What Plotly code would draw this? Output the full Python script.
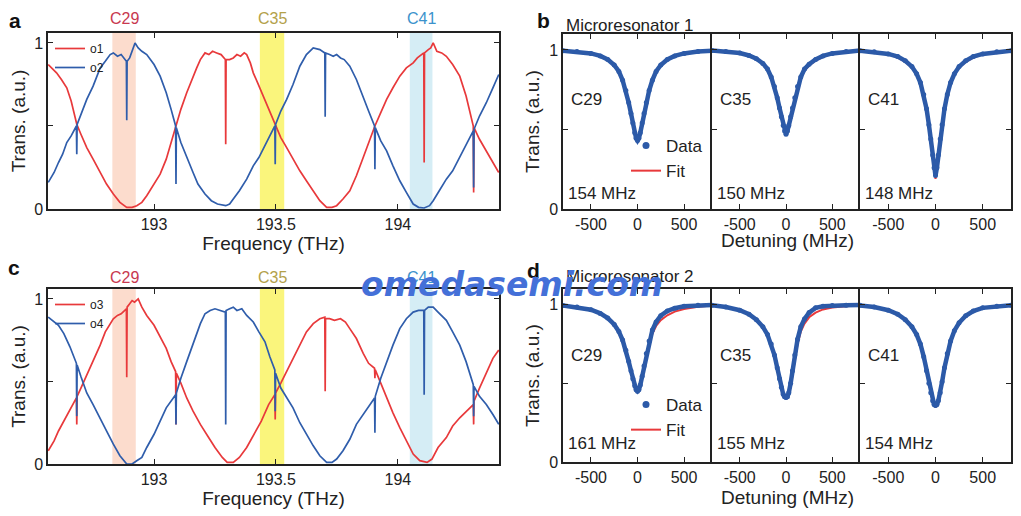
import plotly.graph_objects as go

# ---- panel a: interleaver outputs o1 / o2 ----
a_o1_f = [192.566, 192.585, 192.60, 192.62, 192.642, 192.66, 192.683, 192.70, 192.724, 192.75,
          192.779, 192.805, 192.833, 192.86, 192.888, 192.91, 192.929, 192.95, 192.97, 193.00,
          193.025, 193.05, 193.07, 193.09, 193.11, 193.134, 193.155, 193.175, 193.19, 193.209,
          193.225, 193.24, 193.257, 193.275, 193.2925, 193.294, 193.2955, 193.31, 193.325, 193.34,
          193.355, 193.37, 193.38, 193.395, 193.407, 193.425, 193.448, 193.47, 193.497, 193.52,
          193.544, 193.57, 193.598, 193.625, 193.653, 193.68, 193.708, 193.73, 193.749, 193.775,
          193.803, 193.83, 193.858, 193.88, 193.906, 193.93, 193.954, 193.98, 194.008, 194.035,
          194.063, 194.08, 194.095, 194.1065, 194.108, 194.1095, 194.125, 194.135, 194.145, 194.16,
          194.18, 194.199, 194.225, 194.254, 194.28, 194.3095, 194.311, 194.3125, 194.335, 194.363,
          194.39, 194.414]
a_o1_t = [0.87, 0.84, 0.82, 0.78, 0.73, 0.65, 0.51, 0.45, 0.37, 0.30,
          0.22, 0.15, 0.09, 0.04, 0.01, 0.01, 0.02, 0.04, 0.08, 0.15,
          0.21, 0.30, 0.40, 0.50, 0.60, 0.70, 0.78, 0.85, 0.90, 0.94,
          0.93, 0.95, 0.94, 0.93, 0.90, 0.39, 0.90, 0.90, 0.91, 0.93,
          0.92, 0.94, 0.93, 0.88, 0.82, 0.76, 0.68, 0.60, 0.50, 0.43,
          0.37, 0.30, 0.23, 0.17, 0.11, 0.05, 0.01, 0.01, 0.02, 0.06,
          0.11, 0.20, 0.31, 0.40, 0.50, 0.58, 0.66, 0.73, 0.80, 0.85,
          0.88, 0.91, 0.93, 0.94, 0.28, 0.94, 0.96, 0.97, 1.00, 0.95,
          0.94, 0.92, 0.87, 0.80, 0.68, 0.50, 0.10, 0.49, 0.42, 0.35,
          0.28, 0.22]

a_o2_f = [192.566, 192.59, 192.608, 192.625, 192.642, 192.66, 192.6815, 192.683, 192.6845, 192.70,
          192.724, 192.75, 192.779, 192.80, 192.82, 192.833, 192.85, 192.865, 192.8865, 192.888,
          192.8895, 192.90, 192.91, 192.922, 192.935, 192.95, 192.97, 193.00, 193.025, 193.05,
          193.07, 193.0885, 193.09, 193.0915, 193.11, 193.134, 193.16, 193.18, 193.209, 193.235,
          193.26, 193.294, 193.31, 193.325, 193.35, 193.38, 193.407, 193.43, 193.455, 193.4955,
          193.497, 193.4985, 193.52, 193.544, 193.57, 193.598, 193.625, 193.653, 193.68, 193.7005,
          193.702, 193.7035, 193.72, 193.735, 193.749, 193.765, 193.78, 193.803, 193.83, 193.858,
          193.88, 193.9045, 193.906, 193.9075, 193.93, 193.954, 193.98, 194.008, 194.035, 194.063,
          194.085, 194.108, 194.13, 194.145, 194.17, 194.199, 194.225, 194.254, 194.28, 194.3095,
          194.311, 194.3125, 194.335, 194.363, 194.39, 194.414]
a_o2_t = [0.16, 0.22, 0.28, 0.33, 0.40, 0.44, 0.50, 0.33, 0.51, 0.57,
          0.66, 0.74, 0.85, 0.89, 0.93, 0.94, 0.92, 0.93, 0.89, 0.535,
          0.89, 0.91, 0.95, 1.00, 0.97, 0.95, 0.93, 0.87, 0.80, 0.70,
          0.60, 0.50, 0.15, 0.49, 0.40, 0.31, 0.22, 0.15, 0.09, 0.05,
          0.03, 0.02, 0.03, 0.06, 0.11, 0.18, 0.26, 0.31, 0.38, 0.50,
          0.27, 0.51, 0.59, 0.66, 0.75, 0.86, 0.93, 0.97, 0.96, 0.94,
          0.555, 0.94, 0.93, 0.92, 0.93, 0.91, 0.90, 0.86, 0.78, 0.68,
          0.59, 0.50, 0.24, 0.49, 0.41, 0.35, 0.26, 0.17, 0.10, 0.03,
          0.01, 0.006, 0.02, 0.05, 0.11, 0.18, 0.23, 0.31, 0.39, 0.47,
          0.13, 0.48, 0.56, 0.64, 0.73, 0.81]

# ---- panel c: interleaver outputs o3 / o4 ----
c_o3_f = [192.566, 192.59, 192.608, 192.63, 192.655, 192.6815, 192.683, 192.6845, 192.70, 192.724,
          192.75, 192.779, 192.80, 192.82, 192.833, 192.85, 192.865, 192.8865, 192.888, 192.8895,
          192.90, 192.91, 192.92, 192.935, 192.95, 192.97, 193.00, 193.025, 193.05, 193.07,
          193.0885, 193.09, 193.0915, 193.11, 193.134, 193.16, 193.19, 193.22, 193.25, 193.28,
          193.30, 193.325, 193.35, 193.38, 193.41, 193.44, 193.47, 193.4955, 193.497, 193.4985,
          193.52, 193.544, 193.57, 193.598, 193.625, 193.653, 193.68, 193.7005, 193.702, 193.7035,
          193.72, 193.74, 193.765, 193.785, 193.803, 193.83, 193.858, 193.88, 193.9045, 193.906,
          193.9075, 193.93, 193.954, 193.98, 194.008, 194.035, 194.063, 194.09, 194.12, 194.14,
          194.165, 194.199, 194.225, 194.254, 194.28, 194.3095, 194.311, 194.3125, 194.335, 194.363,
          194.39, 194.414]
c_o3_t = [0.08, 0.14, 0.20, 0.26, 0.32, 0.40, 0.24, 0.41, 0.46, 0.54,
          0.62, 0.72, 0.80, 0.85, 0.88, 0.90, 0.91, 0.94, 0.525, 0.95,
          0.97, 0.99, 0.98, 1.00, 0.95, 0.90, 0.84, 0.77, 0.70, 0.62,
          0.56, 0.24, 0.55, 0.49, 0.40, 0.32, 0.24, 0.17, 0.10, 0.04,
          0.01, 0.01, 0.04, 0.10, 0.18, 0.26, 0.36, 0.42, 0.27, 0.43,
          0.49, 0.56, 0.63, 0.72, 0.80, 0.85, 0.88, 0.89, 0.44, 0.88,
          0.88, 0.87, 0.88, 0.86, 0.82, 0.76, 0.67, 0.61, 0.58, 0.52,
          0.57, 0.49, 0.40, 0.31, 0.22, 0.14, 0.06, 0.02, 0.01, 0.03,
          0.10, 0.16, 0.23, 0.28, 0.32, 0.36, 0.24, 0.38, 0.46, 0.55,
          0.64, 0.69]

c_o4_f = [192.566, 192.59, 192.608, 192.63, 192.655, 192.6815, 192.683, 192.6845, 192.70, 192.724,
          192.75, 192.779, 192.805, 192.833, 192.86, 192.888, 192.91, 192.929, 192.95, 192.97,
          193.00, 193.025, 193.05, 193.0885, 193.09, 193.0915, 193.11, 193.134, 193.16, 193.19,
          193.209, 193.23, 193.25, 193.275, 193.2925, 193.294, 193.2955, 193.31, 193.325, 193.34,
          193.36, 193.38, 193.407, 193.43, 193.455, 193.475, 193.4955, 193.497, 193.4985, 193.52,
          193.544, 193.57, 193.598, 193.625, 193.653, 193.68, 193.708, 193.73, 193.749, 193.775,
          193.803, 193.83, 193.858, 193.88, 193.9045, 193.906, 193.9075, 193.93, 193.954, 193.98,
          194.008, 194.035, 194.063, 194.085, 194.1065, 194.108, 194.1095, 194.125, 194.145, 194.165,
          194.199, 194.225, 194.254, 194.28, 194.3095, 194.311, 194.3125, 194.335, 194.363, 194.39,
          194.414]
c_o4_t = [0.89, 0.86, 0.84, 0.79, 0.71, 0.61, 0.29, 0.60, 0.53, 0.43,
          0.36, 0.28, 0.20, 0.12, 0.05, 0.00, 0.00, 0.02, 0.04, 0.10,
          0.18, 0.26, 0.34, 0.42, 0.24, 0.43, 0.52, 0.62, 0.73, 0.85,
          0.91, 0.93, 0.94, 0.93, 0.92, 0.24, 0.93, 0.94, 0.95, 0.93,
          0.94, 0.90, 0.86, 0.80, 0.74, 0.65, 0.57, 0.32, 0.55, 0.46,
          0.40, 0.34, 0.25, 0.18, 0.11, 0.05, 0.01, 0.01, 0.03, 0.08,
          0.15, 0.24, 0.30, 0.35, 0.40, 0.19, 0.41, 0.52, 0.62, 0.72,
          0.82, 0.88, 0.92, 0.93, 0.93, 0.42, 0.93, 0.95, 0.95, 0.92,
          0.87, 0.80, 0.72, 0.62, 0.48, 0.29, 0.47, 0.41, 0.36, 0.30,
          0.24]

channels = ['C29', 'C35', 'C41']
band_lo = [192.829, 193.434, 194.049]
band_hi = [192.925, 193.534, 194.142]

# ---- panels b / d: resonance dips vs detuning ----
detuning = [-800, -650, -500, -400, -320, -250, -200, -160, -125, -95, -70, -50, -30, -15, 0,
            15, 30, 50, 70, 95, 125, 160, 200, 250, 320, 400, 500, 650, 800]

b_data = [
    [0.995, 0.99, 0.978, 0.962, 0.94, 0.905, 0.865, 0.81, 0.745, 0.67, 0.60, 0.54, 0.48, 0.445, 0.43,
     0.445, 0.48, 0.54, 0.60, 0.67, 0.745, 0.81, 0.865, 0.905, 0.94, 0.962, 0.978, 0.99, 0.995],
    [0.996, 0.99, 0.98, 0.965, 0.945, 0.915, 0.88, 0.83, 0.77, 0.70, 0.635, 0.58, 0.525, 0.49, 0.47,
     0.49, 0.525, 0.58, 0.635, 0.70, 0.77, 0.83, 0.88, 0.91, 0.94, 0.962, 0.978, 0.99, 0.996],
    [0.994, 0.988, 0.975, 0.958, 0.932, 0.895, 0.85, 0.795, 0.72, 0.63, 0.53, 0.44, 0.34, 0.26, 0.21,
     0.26, 0.34, 0.44, 0.53, 0.63, 0.72, 0.795, 0.85, 0.895, 0.932, 0.958, 0.975, 0.988, 0.994],
]
b_fit = [
    [0.995, 0.99, 0.978, 0.962, 0.94, 0.905, 0.865, 0.81, 0.745, 0.67, 0.60, 0.54, 0.48, 0.44, 0.425,
     0.44, 0.48, 0.54, 0.60, 0.67, 0.745, 0.81, 0.865, 0.905, 0.94, 0.962, 0.978, 0.99, 0.995],
    [0.996, 0.99, 0.98, 0.965, 0.945, 0.915, 0.88, 0.83, 0.77, 0.70, 0.635, 0.58, 0.525, 0.49, 0.47,
     0.49, 0.525, 0.58, 0.635, 0.70, 0.77, 0.825, 0.87, 0.902, 0.933, 0.957, 0.975, 0.988, 0.996],
    [0.994, 0.986, 0.972, 0.952, 0.925, 0.888, 0.845, 0.79, 0.715, 0.625, 0.525, 0.43, 0.33, 0.245, 0.19,
     0.245, 0.33, 0.43, 0.525, 0.625, 0.715, 0.79, 0.845, 0.888, 0.925, 0.952, 0.972, 0.986, 0.994],
]
b_width = ['154 MHz', '150 MHz', '148 MHz']

d_data = [
    [0.995, 0.985, 0.968, 0.945, 0.915, 0.875, 0.83, 0.775, 0.71, 0.64, 0.58, 0.53, 0.485, 0.46, 0.45,
     0.46, 0.49, 0.545, 0.61, 0.69, 0.77, 0.84, 0.89, 0.93, 0.96, 0.978, 0.99, 0.996, 0.998],
    [0.997, 0.985, 0.965, 0.94, 0.905, 0.86, 0.81, 0.75, 0.68, 0.60, 0.53, 0.475, 0.43, 0.415, 0.41,
     0.415, 0.44, 0.50, 0.58, 0.68, 0.78, 0.86, 0.91, 0.95, 0.98, 0.99, 0.995, 0.997, 0.998],
    [0.996, 0.985, 0.965, 0.94, 0.905, 0.86, 0.81, 0.75, 0.67, 0.58, 0.50, 0.44, 0.39, 0.365, 0.36,
     0.365, 0.39, 0.44, 0.51, 0.60, 0.69, 0.77, 0.835, 0.885, 0.93, 0.96, 0.98, 0.99, 0.997],
]
d_fit = [
    [0.995, 0.985, 0.968, 0.945, 0.915, 0.875, 0.83, 0.775, 0.71, 0.64, 0.58, 0.53, 0.485, 0.46, 0.45,
     0.46, 0.49, 0.54, 0.60, 0.675, 0.75, 0.815, 0.865, 0.902, 0.933, 0.956, 0.973, 0.987, 0.995],
    [0.997, 0.985, 0.965, 0.94, 0.905, 0.86, 0.81, 0.75, 0.68, 0.60, 0.53, 0.475, 0.43, 0.415, 0.405,
     0.415, 0.43, 0.48, 0.56, 0.66, 0.75, 0.83, 0.88, 0.92, 0.95, 0.97, 0.982, 0.99, 0.997],
    [0.996, 0.985, 0.963, 0.937, 0.902, 0.857, 0.807, 0.747, 0.667, 0.577, 0.497, 0.435, 0.38, 0.355, 0.35,
     0.355, 0.38, 0.435, 0.505, 0.595, 0.685, 0.765, 0.83, 0.88, 0.925, 0.956, 0.977, 0.99, 0.997],
]
d_width = ['161 MHz', '155 MHz', '154 MHz']

RED = '#e8393b'
BLUE = '#2f5dab'
DOT = '#2c5aa8'
FONT = 'Liberation Sans'
INK = '#222222'
band_fill = ['#fcdccd', '#faf57c', '#d5edf5']
label_col = ['#c8384f', '#b3a14a', '#3b92cc']

# the page body adds an 8 px margin, so the figure is 8 px smaller and every
# position below is given in window pixels and shifted by that offset
OFF = 8
W, H = 1021 - OFF, 516 - OFF


def px(x):
    return (x - OFF) / W


def py(y):
    return 1 - (y - OFF) / H


fig = go.Figure()

# interleaver panels
for xa, ya, leg, pairs in [
    ('x', 'y', 'legend', [('o1', a_o1_f, a_o1_t, RED), ('o2', a_o2_f, a_o2_t, BLUE)]),
    ('x2', 'y2', 'legend2', [('o3', c_o3_f, c_o3_t, RED), ('o4', c_o4_f, c_o4_t, BLUE)]),
]:
    for name, f, t, col in pairs:
        fig.add_trace(go.Scatter(x=f, y=t, mode='lines', name=name,
                                 line=dict(color=col, width=1.7),
                                 xaxis=xa, yaxis=ya, legend=leg))
    for lo, hi, col in zip(band_lo, band_hi, band_fill):
        fig.add_shape(type='rect', xref=xa, yref=ya + ' domain', x0=lo, x1=hi, y0=0, y1=1,
                      fillcolor=col, line=dict(width=0), layer='below')

# resonance panels
groups = [(['x3', 'x4', 'x5'], ['y3', 'y4', 'y5'], 'legend3', b_data, b_fit),
          (['x6', 'x7', 'x8'], ['y6', 'y7', 'y8'], 'legend4', d_data, d_fit)]
for xs, ys, leg, data, fit in groups:
    for i in range(3):
        fig.add_trace(go.Scatter(x=detuning, y=fit[i], mode='lines', name='Fit',
                                 line=dict(color=RED, width=2), legendrank=2,
                                 showlegend=(i == 0), xaxis=xs[i], yaxis=ys[i], legend=leg))
        fig.add_trace(go.Scatter(x=detuning, y=data[i], mode='lines+markers', name='Data',
                                 line=dict(color=DOT, width=4.5), marker=dict(color=DOT, size=5),
                                 showlegend=False, xaxis=xs[i], yaxis=ys[i]))
    fig.add_trace(go.Scatter(x=[None], y=[None], mode='markers', name='Data',
                             marker=dict(color=DOT, size=7), legendrank=1,
                             xaxis=xs[0], yaxis=ys[0], legend=leg))

axis_common = dict(showline=True, linecolor=INK, linewidth=1.5, mirror='allticks',
                   ticks='inside', ticklen=5, tickcolor=INK, showgrid=False, zeroline=False,
                   tickfont=dict(family=FONT, size=16, color=INK), automargin=False)
title_font = dict(family=FONT, size=19, color=INK)

freq_ticks = dict(tickvals=[193, 193.5, 194], ticktext=['193', '193.5', '194'])
trans_ticks = dict(tickvals=[0, 0.5, 1], ticktext=['0', '', '1'])
det_ticks = dict(tickvals=[-500, 0, 500], ticktext=['-500', '0', '500'])

layout = dict(width=W, height=H, margin=dict(l=0, r=0, t=0, b=0),
              plot_bgcolor='white', paper_bgcolor='white', showlegend=True,
              font=dict(family=FONT, color=INK))

# a and c
for k, top, bot in [('', 33, 209), ('2', 289, 464)]:
    layout['xaxis' + k] = dict(axis_common, domain=[px(48), px(499)], range=[192.565, 194.415],
                               anchor='y' + k, title=dict(text='Frequency (THz)', font=title_font,
                                                          standoff=1), **freq_ticks)
    layout['yaxis' + k] = dict(axis_common, domain=[py(bot), py(top)], range=[0, 1.06],
                               anchor='x' + k, title=dict(text='Trans. (a.u.)', font=title_font,
                                                          standoff=5), **trans_ticks)

# b and d: neighbouring boxes share one edge line
edges = [563, 712, 860, 1011]
for xs, top, bot in [(['3', '4', '5'], 34, 209), (['6', '7', '8'], 289, 462)]:
    for i in range(3):
        layout['xaxis' + xs[i]] = dict(axis_common, domain=[px(edges[i]), px(edges[i + 1])],
                                       range=[-800, 800], anchor='y' + xs[i], **det_ticks)
        yax = dict(axis_common, domain=[py(bot), py(top)], range=[0, 1.1],
                   anchor='x' + xs[i], **trans_ticks)
        if i == 0:
            yax['title'] = dict(text='Trans. (a.u.)', font=title_font, standoff=4)
        else:
            yax['showticklabels'] = False
        if i < 2:
            yax['mirror'] = False
        layout['yaxis' + xs[i]] = yax

leg_common = dict(xanchor='left', yanchor='top', bgcolor='rgba(0,0,0,0)', itemwidth=30,
                  tracegroupgap=0)
small = dict(family=FONT, size=12, color=INK)
big = dict(family=FONT, size=17, color=INK)
layout['legend'] = dict(leg_common, x=px(50), y=py(34), font=small)
layout['legend2'] = dict(leg_common, x=px(50), y=py(290), font=small)
layout['legend3'] = dict(leg_common, x=px(626), y=py(128), font=big)
layout['legend4'] = dict(leg_common, x=px(626), y=py(387), font=big)

fig.update_layout(**layout)

ann = []


def label(text, x, y, size, color=INK, xref='paper', xanchor='center', bold=False):
    ann.append(dict(text='<b>%s</b>' % text if bold else text, x=x, y=py(y), xref=xref,
                    yref='paper', xanchor=xanchor, yanchor='middle', showarrow=False,
                    font=dict(family=FONT, size=size, color=color)))


# panel letters
for letter, x, y in [('a', 15, 20.5), ('b', 543, 20.5), ('c', 14, 267), ('d', 533, 270)]:
    label(letter, px(x), y, 21, '#111111', bold=True)
# channel labels above a / c
for xa, y in [('x', 19), ('x2', 277)]:
    for ch, lo, hi, col in zip(channels, band_lo, band_hi, label_col):
        label(ch, (lo + hi) / 2, y, 16, col, xref=xa)
# titles of b / d
label('Microresonator 1', px(564), 25, 17, xanchor='left')
label('Microresonator 2', px(564), 276, 17, xanchor='left')
# detuning axis titles
label('Detuning (MHz)', px(787), 240, 19)
label('Detuning (MHz)', px(787), 497, 19)
# channel and linewidth labels inside b / d
for xs, widths, ych, ywd in [(['x3', 'x4', 'x5'], b_width, 99, 193),
                             (['x6', 'x7', 'x8'], d_width, 355, 443)]:
    for i in range(3):
        label(channels[i], 0.04, ych, 17, xref=xs[i] + ' domain', xanchor='left')
        label(widths[i], 0.02, ywd, 17, xref=xs[i] + ' domain', xanchor='left')

fig.update_layout(annotations=ann)

# watermark
fig.add_annotation(text='omedasemi.com', x=px(512), y=py(284), xref='paper', yref='paper',
                   xanchor='center', yanchor='middle', showarrow=False,
                   font=dict(family='DejaVu Sans', size=33, color='#4470d8',
                             weight='bold', style='italic'))

fig.write_html("out.html")
